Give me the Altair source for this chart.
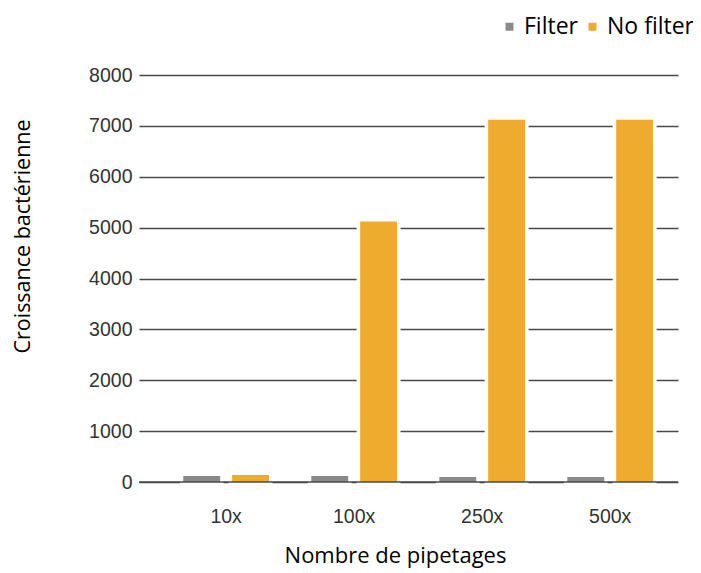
import altair as alt
import pandas as pd

categories = ["10x", "100x", "250x", "500x"]
series = ["Filter", "No filter"]
filter_vals = [120, 120, 100, 100]
nofilter_vals = [140, 5120, 7120, 7120]
y_ticks = [0, 1000, 2000, 3000, 4000, 5000, 6000, 7000, 8000]
colors = ["#8a8a8a", "#eeac2e"]

rows = []
for c, f, n in zip(categories, filter_vals, nofilter_vals):
    rows.append({"cat": c, "series": "Filter", "value": f})
    rows.append({"cat": c, "series": "No filter", "value": n})
df = pd.DataFrame(rows)

grid_col = "#4a4a4a"

yaxis = alt.Axis(
    title="Croissance bactérienne", values=y_ticks, format="d",
    grid=True, gridColor=grid_col, gridWidth=1.5, ticks=False, domain=False,
    labelFont="Liberation Sans", labelFontSize=19.5, labelColor="#333333", labelPadding=7,
    titleFont="Open Sans", titleFontSize=21.5, titleFontWeight="normal", titleColor="#000000",
    titleX=-116, titleY=161, titleAngle=270, titleAlign="center", titleBaseline="middle",
)
xaxis = alt.Axis(
    title="Nombre de pipetages", labelAngle=0, ticks=False, domain=False, grid=False,
    labelFont="Liberation Sans", labelFontSize=19.5, labelColor="#333333",
    labelPadding=40, labelBaseline="alphabetic",
    titleFont="Open Sans", titleFontSize=22, titleFontWeight="normal", titleColor="#000000",
    titleX=256, titleY=80, titleAlign="center", titleBaseline="alphabetic",
)

xenc = alt.X("cat:N", sort=categories,
             scale=alt.Scale(paddingInner=0.33, paddingOuter=0.27, align=0.64),
             axis=xaxis)
yenc = alt.Y("value:Q", scale=alt.Scale(domain=[0, 8000], nice=False), axis=yaxis)
xoff = alt.XOffset("series:N", sort=series,
                   scale=alt.Scale(paddingInner=0.245, paddingOuter=0))

base = alt.Chart(df)

halo = base.mark_bar(color="white", stroke="white", strokeWidth=7).encode(
    x=xenc, y=yenc, xOffset=xoff
)

bars = base.mark_bar().encode(
    x=xenc, y=yenc, xOffset=xoff,
    color=alt.Color(
        "series:N",
        scale=alt.Scale(domain=series, range=colors),
        legend=alt.Legend(
            title=None, orient="none", legendX=359, legendY=-60,
            direction="horizontal", symbolType="square", symbolSize=64,
            symbolStrokeWidth=0, labelFont="Open Sans", labelFontSize=23,
            labelColor="#000000", labelOffset=3, columnPadding=3, padding=0,
        ),
    ),
)

baseline = alt.Chart(pd.DataFrame({"value": [0]})).mark_rule(
    color=grid_col, strokeWidth=1.5
).encode(y=yenc)

chart = alt.layer(halo, bars, baseline).properties(
    width=539, height=407,
    autosize=alt.AutoSizeParams(type="none"),
    padding={"left": 131, "top": 67, "right": 15, "bottom": 91},
).configure_view(stroke=None)

chart.save("out.html", embed_options={"renderer": "svg", "actions": False})
